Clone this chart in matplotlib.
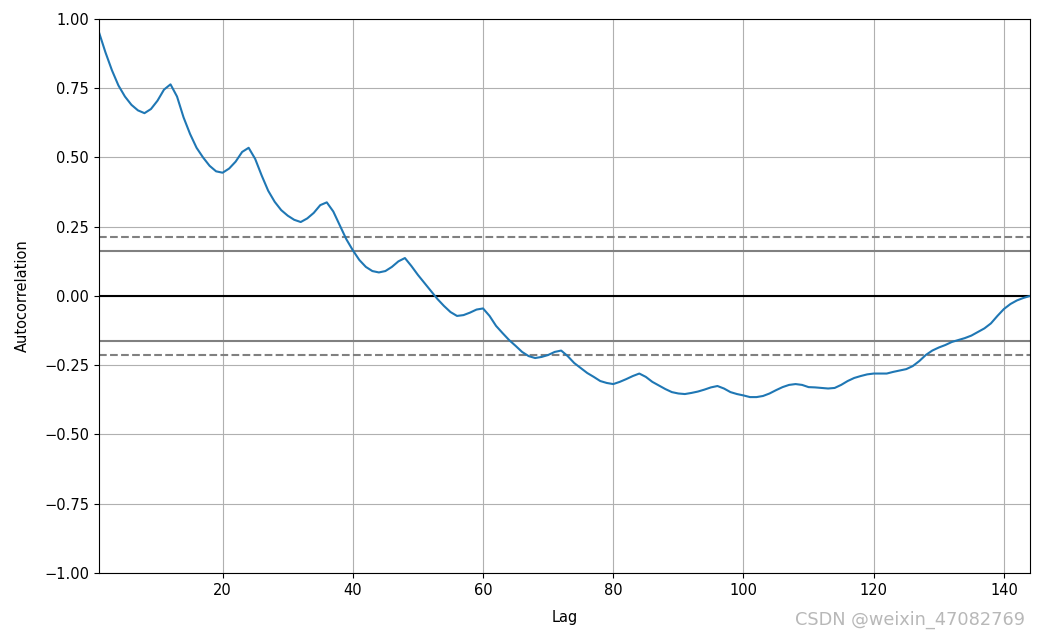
import numpy as np
import matplotlib
matplotlib.use("Agg")
import matplotlib.pyplot as plt

# autocorrelation, lag 1..144
acf = [
    0.953, 0.880, 0.815, 0.760, 0.720, 0.690, 0.670, 0.660, 0.675, 0.705,
    0.745, 0.764, 0.720, 0.645, 0.585, 0.535, 0.500, 0.470, 0.450, 0.445,
    0.460, 0.485, 0.520, 0.535, 0.495, 0.435, 0.380, 0.340, 0.310, 0.290,
    0.275, 0.267, 0.280, 0.300, 0.328, 0.338, 0.305, 0.255, 0.205, 0.165,
    0.130, 0.105, 0.090, 0.085, 0.090, 0.105, 0.125, 0.137, 0.108, 0.076,
    0.047, 0.018, -0.011, -0.036, -0.058, -0.072, -0.069, -0.060, -0.049, -0.045,
    -0.072, -0.108, -0.134, -0.159, -0.180, -0.202, -0.217, -0.224, -0.220, -0.213,
    -0.202, -0.197, -0.217, -0.242, -0.260, -0.278, -0.292, -0.307, -0.314, -0.318,
    -0.310, -0.300, -0.289, -0.280, -0.292, -0.310, -0.323, -0.336, -0.347, -0.352,
    -0.354, -0.350, -0.345, -0.338, -0.330, -0.325, -0.334, -0.347, -0.354, -0.359,
    -0.365, -0.365, -0.361, -0.352, -0.340, -0.329, -0.321, -0.318, -0.321, -0.329,
    -0.330, -0.332, -0.334, -0.332, -0.321, -0.307, -0.296, -0.289, -0.283, -0.280,
    -0.280, -0.280, -0.274, -0.269, -0.264, -0.253, -0.235, -0.213, -0.197, -0.186,
    -0.177, -0.166, -0.159, -0.152, -0.143, -0.130, -0.117, -0.099, -0.072, -0.047,
    -0.029, -0.016, -0.007, 0.000,
]
lags = np.arange(1, len(acf) + 1)

# confidence bands (95% solid, 99% dashed)
band95 = 0.1633
band99 = 0.2147

fig = plt.figure(figsize=(10.41, 6.39), dpi=100)
ax = fig.add_subplot(111)
fig.subplots_adjust(left=0.095, right=0.9894, top=0.9703, bottom=0.1033)

ax.axhline(y=band99, linestyle="--", color="grey")
ax.axhline(y=band95, color="grey")
ax.axhline(y=0.0, color="black")
ax.axhline(y=-band95, color="grey")
ax.axhline(y=-band99, linestyle="--", color="grey")
ax.plot(lags, acf)

ax.set_xlim(1, len(acf))
ax.set_ylim(-1.0, 1.0)
ax.set_xlabel("Lag", fontsize=10.5, labelpad=9)
ax.set_ylabel("Autocorrelation", fontsize=10.5, labelpad=10)
ax.tick_params(labelsize=10.5)
ax.grid()

fig.text(0.985, 0.015, "CSDN @weixin_47082769", ha="right", va="bottom",
         color="#b8b8b8", fontsize=12.8)

fig.savefig("out.png", dpi=100)
